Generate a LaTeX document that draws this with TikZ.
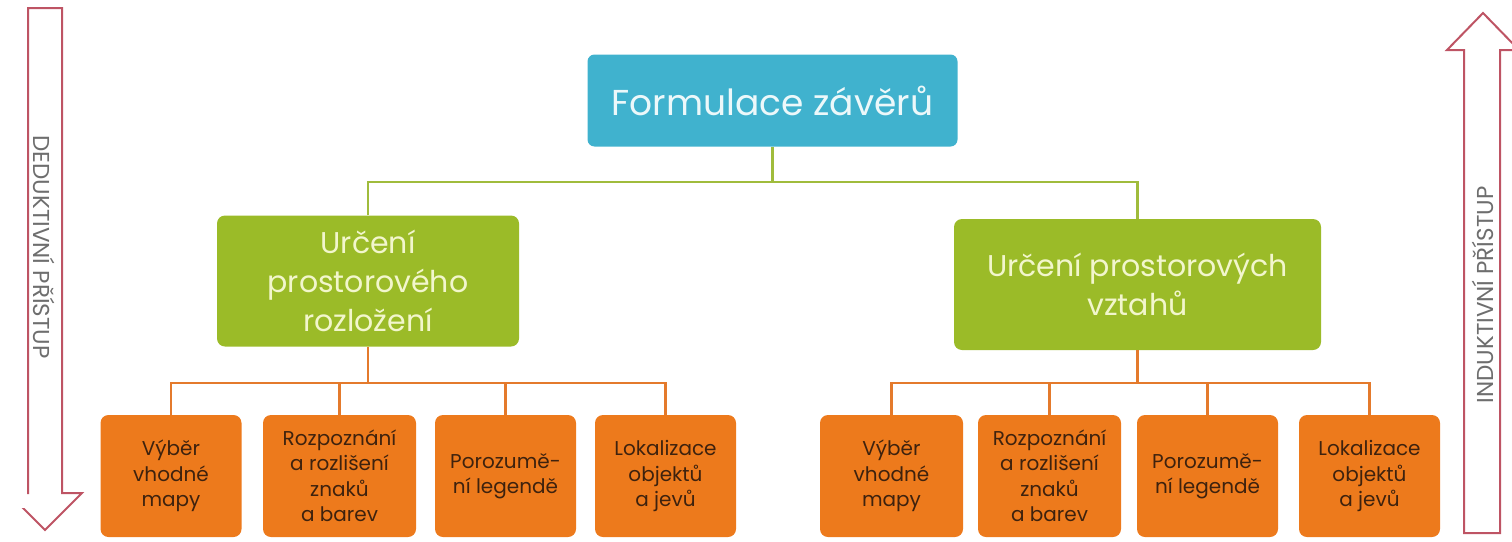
\documentclass[tikz,border=0pt]{standalone}
\usepackage{fontspec}
\setmainfont{Poppins}

\definecolor{topblue}{RGB}{64,178,206}
\definecolor{toptext}{RGB}{236,248,250}
\definecolor{midgreen}{RGB}{155,187,40}
\definecolor{midtext}{RGB}{242,246,204}
\definecolor{leaforange}{RGB}{237,122,28}
\definecolor{leaftext}{RGB}{62,34,14}
\definecolor{linkgreen}{RGB}{160,188,60}
\definecolor{linkorange}{RGB}{228,122,44}
\definecolor{arrowred}{RGB}{190,84,100}
\definecolor{arrowtext}{RGB}{110,110,110}

\tikzset{
  topbox/.style={fill=topblue, text=toptext, rounded corners=7, inner sep=0,
    minimum width=370, minimum height=92, font=\fontsize{36}{40}\selectfont},
  midbox/.style={fill=midgreen, text=midtext, rounded corners=8, inner sep=0,
    minimum height=131, align=center, font=\fontsize{30}{39}\selectfont},
  leafbox/.style={fill=leaforange, text=leaftext, rounded corners=8, inner sep=0,
    minimum height=122, minimum width=141, align=center,
    font=\fontsize{20}{25.5}\selectfont},
  greenlink/.style={draw=linkgreen, line width=2.8},
  orangelink/.style={draw=linkorange, line width=2.8},
  bigarrow/.style={draw=arrowred, line width=2, fill=white, line join=miter},
  arrowlabel/.style={text=arrowtext, font=\fontsize{23}{27}\selectfont, inner sep=0}
}

\begin{document}
\begin{tikzpicture}[x=1pt,y=-1pt]
\useasboundingbox (0,0) rectangle (1512,541);
\clip (0,0) rectangle (1512,541);

% side arrows: deductive (down) and inductive (up)
\draw[bigarrow] (28,8) -- (62,8) -- (62,493) -- (82,493) -- (45,530)
  -- (8,493) -- (28,493) -- cycle;
\fill[white] (0,48) rectangle (26.5,508);
\node[arrowlabel, rotate=-90] (ded) at (44,247) {DEDUKTIVNÍ PŘÍSTUP};

\draw[bigarrow] (1464,533) -- (1500,533) -- (1500,50) -- (1519,50) -- (1483,13)
  -- (1447,50) -- (1464,50) -- cycle;
\node[arrowlabel, rotate=90] (ind) at (1483,295) {INDUKTIVNÍ PŘÍSTUP};

% hierarchy
\node[topbox] (top) at (772.5,100.5) {Formulace závěrů};

\node[midbox, minimum width=302] (gl) at (368,281)
  {Určení\\prostorového\\rozložení};
\node[midbox, minimum width=367] (gr) at (1137.5,284.5)
  {Určení prostorových\\vztahů};

\node[leafbox] (l1) at (171,476) {Výběr\\vhodné\\mapy};
\node[leafbox, minimum width=153] (l2) at (339.5,476) {Rozpoznání\\a rozlišení\\znaků\\a barev};
\node[leafbox] (l3) at (505.5,476) {Porozumě-\\ní legendě};
\node[leafbox] (l4) at (665.5,476) {Lokalizace\\objektů\\a jevů};

\node[leafbox, minimum width=143] (r1) at (891.5,476) {Výběr\\vhodné\\mapy};
\node[leafbox, minimum width=143] (r2) at (1049.5,476) {Rozpoznání\\a rozlišení\\znaků\\a barev};
\node[leafbox] (r3) at (1207.5,476) {Porozumě-\\ní legendě};
\node[leafbox] (r4) at (1369.5,476) {Lokalizace\\objektů\\a jevů};

% connectors
\coordinate (gbus) at (772.5,182);
\draw[greenlink] (top.south) -- (gbus);
\draw[greenlink] (gl.north) |- (gbus) -| (gr.north);

\coordinate (lbus) at (368,383);
\draw[orangelink] (gl.south) -- (lbus);
\draw[orangelink] (l1.north) |- (lbus) -| (l4.north);
\draw[orangelink] (l2.north) -- (l2.north |- lbus);
\draw[orangelink] (l3.north) -- (l3.north |- lbus);

\coordinate (rbus) at (1137.5,383);
\draw[orangelink] (gr.south) -- (rbus);
\draw[orangelink] (r1.north) |- (rbus) -| (r4.north);
\draw[orangelink] (r2.north) -- (r2.north |- rbus);
\draw[orangelink] (r3.north) -- (r3.north |- rbus);
\end{tikzpicture}
\end{document}
